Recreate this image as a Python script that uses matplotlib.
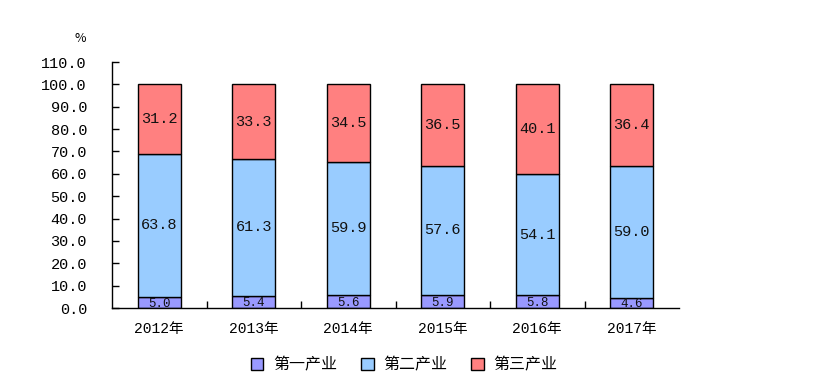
import matplotlib.pyplot as plt
import numpy as np

years = ["2012年", "2013年", "2014年", "2015年", "2016年", "2017年"]
primary = [5.0, 5.4, 5.6, 5.9, 5.8, 4.6]
secondary = [63.8, 61.3, 59.9, 57.6, 54.1, 59.0]
tertiary = [31.2, 33.3, 34.5, 36.5, 40.1, 36.4]
series_names = ["第一产业", "第二产业", "第三产业"]
colors = ["#9999FF", "#99CCFF", "#FF8080"]
yticks = np.arange(0, 111, 10)

num_font = ["Liberation Mono", "Noto Sans CJK SC"]
cjk_font = ["Noto Sans CJK SC", "DejaVu Sans"]

fig = plt.figure(figsize=(8.21, 3.91), dpi=100)
ax = fig.add_axes([112 / 821, 1 - 308 / 391, (679 - 112) / 821, (308 - 62) / 391])

x = np.arange(len(years))
bottom = np.zeros(len(years))
for vals, name, c in zip([primary, secondary, tertiary], series_names, colors):
    bars = ax.bar(x, vals, width=0.45, bottom=bottom, color=c, edgecolor="black",
                  linewidth=1.0, label=name)
    for b, v, b0 in zip(bars, vals, bottom):
        small = v < 10
        ax.text(b.get_x() + b.get_width() / 2, b0 + v / 2 - (0.6 if small else 0),
                f"{v:.1f}", ha="center", va="center",
                fontsize=9 if small else 11, family=num_font, color="#111111")
    bottom += np.array(vals)

ax.set_xlim(-0.5, len(years) - 0.5)
ax.set_ylim(0, 110)
ax.set_yticks(yticks)
ax.set_yticklabels([f"{t:.1f}" for t in yticks], family=num_font, fontsize=11)
ax.set_xticks(x)
ax.set_xticklabels(years, family=num_font, fontsize=10.5)
ax.set_xticks(np.arange(0.5, len(years) - 0.5, 1), minor=True)
ax.tick_params(axis="x", which="major", length=0, pad=10)
ax.tick_params(axis="x", which="minor", direction="in", length=5, width=1)
ax.tick_params(axis="y", direction="in", length=5, width=1, pad=18)
ax.spines["top"].set_visible(False)
ax.spines["right"].set_visible(False)
ax.spines["left"].set_linewidth(1)
ax.spines["bottom"].set_linewidth(1)

fig.text(80 / 821, 1 - 38 / 391, "%", family=cjk_font, fontsize=9, ha="center", va="center")

fig.legend(loc="center", bbox_to_anchor=(404 / 821, 1 - 365 / 391), ncol=3,
           frameon=False, prop={"family": cjk_font, "size": 11.5},
           handlelength=0.8, handleheight=0.8, handletextpad=0.6, columnspacing=1.5)

fig.savefig("out.png", dpi=100)
